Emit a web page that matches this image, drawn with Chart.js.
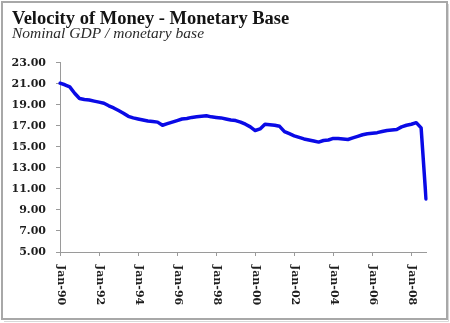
<!DOCTYPE html>
<html>
<head>
<meta charset="utf-8">
<title>Velocity of Money - Monetary Base</title>
<script src="https://cdn.jsdelivr.net/npm/chart.js@4/dist/chart.umd.min.js"></script>
<style>
  html, body { margin: 0; padding: 0; background: #fff; }
  #wrap { width: 450px; height: 323px; position: relative; }
</style>
</head>
<body>
<div id="wrap"><canvas id="chart" width="450" height="323"></canvas></div>
<script>
// Quarterly observations, 1990 Q1 through 2008 Q4
const years = ['90','91','92','93','94','95','96','97','98','99',
               '00','01','02','03','04','05','06','07','08'];
const quarterMonths = ['Jan','Apr','Jul','Oct'];
const quarterLabels = years.flatMap(y => quarterMonths.map(m => m + '-' + y));

// Nominal GDP divided by the monetary base
const velocity = [
  21.05, 20.90, 20.70, 20.10, 19.60, 19.50, 19.45, 19.35,   // 1990-91
  19.25, 19.15, 18.90, 18.70, 18.45, 18.20, 17.90, 17.75,   // 1992-93
  17.65, 17.55, 17.45, 17.40, 17.35, 17.05, 17.20, 17.35,   // 1994-95
  17.50, 17.65, 17.70, 17.80, 17.85, 17.90, 17.95, 17.85,   // 1996-97
  17.80, 17.75, 17.65, 17.55, 17.50, 17.35, 17.15, 16.90,   // 1998-99
  16.55, 16.70, 17.15, 17.10, 17.05, 16.95, 16.45, 16.25,   // 2000-01
  16.05, 15.90, 15.75, 15.65, 15.55, 15.45, 15.60, 15.65,   // 2002-03
  15.80, 15.80, 15.75, 15.70, 15.85, 16.00, 16.15, 16.25,   // 2004-05
  16.30, 16.35, 16.45, 16.55, 16.60, 16.65, 16.90, 17.05,   // 2006-07
  17.15, 17.30, 16.80, 10.05                                // 2008
];

// Value axis range and spacing
const yMin = 5, yMax = 23, yStep = 2;
// Every eighth quarter (each January of an even year) carries a label
const labelEvery = 8;

const axisGray = '#9a9a9a';
const serif = '"DejaVu Serif", "Liberation Serif", serif';

// White background plus the thin grey frame round the figure
const frame = {
  id: 'frame',
  beforeDraw(chart) {
    const { ctx, width, height } = chart;
    ctx.save();
    ctx.fillStyle = '#fff';
    ctx.fillRect(0, 0, width, height);
    ctx.strokeStyle = '#a8a8a8';
    ctx.lineWidth = 2;
    ctx.strokeRect(2, 2, width - 5, height - 6);
    ctx.strokeStyle = '#d8d8d8';
    ctx.lineWidth = 1;
    ctx.beginPath();
    ctx.moveTo(width - 1.5, 4); ctx.lineTo(width - 1.5, height - 1.5);
    ctx.lineTo(4, height - 1.5);
    ctx.stroke();
    ctx.restore();
  }
};

// Date labels run top-to-bottom under their tick marks
const verticalDateLabels = {
  id: 'verticalDateLabels',
  afterDraw(chart) {
    const { ctx } = chart;
    const x = chart.scales.x;
    ctx.save();
    ctx.font = 'bold 11px ' + serif;
    ctx.fillStyle = '#1e1e1e';
    ctx.textAlign = 'left';
    ctx.textBaseline = 'middle';
    x.ticks.forEach((t, i) => {
      if (i % labelEvery) return;
      const px = x.getPixelForTick(i);
      ctx.save();
      ctx.translate(px + 0.5, x.top + 13);
      ctx.rotate(Math.PI / 2);
      ctx.fillText(quarterLabels[i], 0, 0);
      ctx.restore();
    });
    ctx.restore();
  }
};

new Chart(document.getElementById('chart'), {
  type: 'line',
  data: {
    labels: quarterLabels,
    datasets: [{
      data: velocity,
      borderColor: '#0a0ae6',
      borderWidth: 3.5,
      borderJoinStyle: 'round',
      borderCapStyle: 'round',
      pointRadius: 0,
      tension: 0,
      fill: false
    }]
  },
  options: {
    responsive: false,
    animation: false,
    layout: { padding: { left: 12, right: 24, top: 0, bottom: 0 } },
    plugins: {
      legend: { display: false },
      tooltip: { enabled: false },
      title: {
        display: true,
        text: 'Velocity of Money - Monetary Base',
        align: 'start',
        color: '#141414',
        font: { family: '"Liberation Serif", serif', size: 18.5, weight: 'bold', lineHeight: 0.9 },
        padding: { top: 10.5, bottom: 0 }
      },
      subtitle: {
        display: true,
        text: 'Nominal GDP / monetary base',
        align: 'start',
        color: '#2a2a2a',
        font: { family: '"Liberation Serif", serif', size: 15.5, style: 'italic', lineHeight: 0.9 },
        padding: { top: 0, bottom: 21.6 }
      }
    },
    scales: {
      x: {
        type: 'category',
        offset: false,
        border: { color: axisGray, width: 1 },
        grid: {
          drawOnChartArea: false,
          drawTicks: true,
          tickLength: 4,
          tickColor: ctx => (ctx.index % labelEvery === 0 ? axisGray : 'rgba(0,0,0,0)')
        },
        ticks: { display: false, autoSkip: false, maxRotation: 0 },
        afterFit(scale) { scale.height = 71; }
      },
      y: {
        min: yMin,
        max: yMax,
        border: { color: axisGray, width: 1 },
        grid: { drawOnChartArea: false, drawTicks: true, tickLength: 4, tickColor: axisGray },
        ticks: {
          stepSize: yStep,
          padding: 10,
          color: '#1e1e1e',
          font: { family: serif, size: 11, weight: 'bold' },
          callback: v => v.toFixed(2)
        },
        afterFit(scale) { scale.width = 48; }
      }
    }
  },
  plugins: [frame, verticalDateLabels]
});
</script>
</body>
</html>
